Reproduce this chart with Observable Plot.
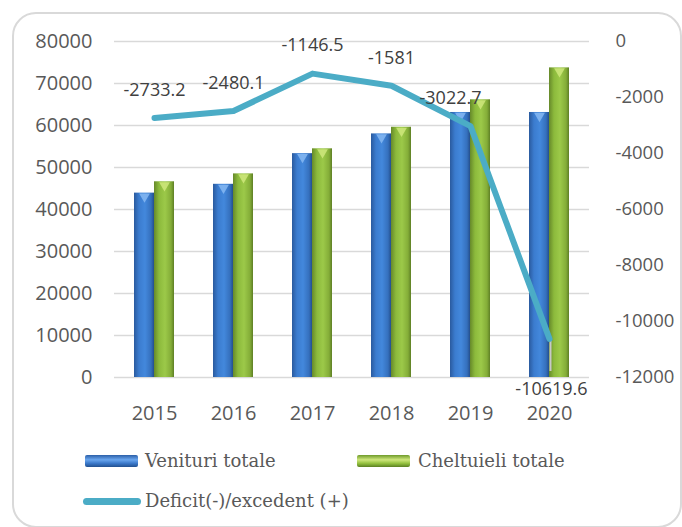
<!DOCTYPE html>
<html><head><meta charset="utf-8">
<script src="https://cdn.jsdelivr.net/npm/d3@7"></script>
<script src="https://cdn.jsdelivr.net/npm/@observablehq/plot@0.6"></script>
<style>
body{margin:0;background:#fff;}
#wrap{position:relative;width:682px;height:527px;overflow:hidden;font-family:"Open Sans",sans-serif;}
#frame{position:absolute;left:12px;top:12px;width:670px;height:516px;border:2px solid #d9d9d9;border-radius:24px;box-sizing:border-box;}
#chart{position:absolute;left:0;top:0;}
.leg{position:absolute;font-family:"DejaVu Serif",serif;font-size:18px;color:#595959;white-space:nowrap;line-height:20px;}
.sw{position:absolute;}
</style></head>
<body><div id="wrap"><div id="frame"></div><div id="chart"></div><div id="legend"></div></div>
<script>
// ---- data ----
const years = ["2015", "2016", "2017", "2018", "2019", "2020"];
const venituri = [43900, 46000, 53300, 58000, 63100, 63100];
const cheltuieli = [46600, 48480, 54450, 59580, 66120, 73720];
const deficit = [-2733.2, -2480.1, -1146.5, -1581, -3022.7, -10619.6];
const leftTicks = [0, 10000, 20000, 30000, 40000, 50000, 60000, 70000, 80000];
const rightTicks = [0, -2000, -4000, -6000, -8000, -10000, -12000];
const seriesNames = ["Venituri totale", "Cheltuieli totale", "Deficit(-)/excedent (+)"];

// dual-axis mapping: right axis [-12000, 0] onto left axis [0, 80000]
const LEFT_MAX = 80000, RIGHT_MIN = -12000, RIGHT_MAX = 0;
const toLeft = v => (v - RIGHT_MIN) / (RIGHT_MAX - RIGHT_MIN) * LEFT_MAX;
const fromLeft = y => y / LEFT_MAX * (RIGHT_MAX - RIGHT_MIN) + RIGHT_MIN;

const rows = years.map((year, i) => ({
  year, ven: venituri[i], chel: cheltuieli[i], def: deficit[i], defY: toLeft(deficit[i])
}));
const last = rows.slice(-1);
const plain = rows.filter(d => d.year !== "2019" && d.year !== "2020");
const y2019 = rows.filter(d => d.year === "2019");

const chart = Plot.plot({
  width: 682, height: 430,
  marginTop: 41, marginBottom: 53, marginLeft: 114, marginRight: 93,
  style: {fontFamily: "'Open Sans', sans-serif", color: "#595959", background: "transparent", overflow: "visible"},
  x: {domain: years, paddingInner: 0.495, paddingOuter: 0.2475, label: null},
  y: {domain: [0, 80000], label: null},
  marks: [
    Plot.gridY(leftTicks, {stroke: "#d9d9d9", strokeOpacity: 1, strokeWidth: 1.5}),
    Plot.axisY(leftTicks, {tickSize: 0, tickPadding: 22, fontSize: 20, label: null, tickFormat: d => String(d)}),
    Plot.axisY(rightTicks.map(toLeft), {anchor: "right", tickSize: 0, tickPadding: 26, fontSize: 18.5, label: null,
      tickFormat: d => String(Math.round(fromLeft(d)))}),
    Plot.axisX({tickSize: 0, tickPadding: 28, fontSize: 20, label: null}),
    Plot.barY(rows, {x: "year", y: "ven", fill: "url(#gBlue)", insetRight: 20}),
    Plot.barY(rows, {x: "year", y: "chel", fill: "url(#gGreen)", insetLeft: 20}),
    Plot.dot(rows, {x: "year", y: "ven", symbol: "triangle", rotate: 180, r: 4, dx: -10, dy: 3.5, fill: "#86b9f2", fillOpacity: 0.85}),
    Plot.dot(rows, {x: "year", y: "chel", symbol: "triangle", rotate: 180, r: 4, dx: 10, dy: 3.5, fill: "#cfe77c", fillOpacity: 0.85}),
    Plot.ruleX(last, {x: "year", y1: "defY", y2: 0, dx: 1, stroke: "#c8c8c8", strokeWidth: 2, insetTop: 2, insetBottom: 6}),
    Plot.line(rows, {x: "year", y: "defY", stroke: "#4bacc6", strokeWidth: 6, strokeLinejoin: "round", strokeLinecap: "round"}),
    Plot.text(plain, {x: "year", y: "defY", text: d => String(d.def), dy: -28, fontSize: 18, fill: "#404040"}),
    Plot.text(y2019, {x: "year", y: "defY", text: d => String(d.def), dy: -28, dx: -20, fontSize: 18, fill: "#404040"}),
    Plot.text(last, {x: "year", y: "defY", text: d => String(d.def), dy: 50, dx: 2, fontSize: 18, fill: "#404040"})
  ]
});

// gradients for the bevelled bars
const defs = d3.select(chart).insert("defs", ":first-child");
function grad(id, stops) {
  const g = defs.append("linearGradient").attr("id", id).attr("x1", "0").attr("x2", "1").attr("y1", "0").attr("y2", "0");
  stops.forEach(([o, c]) => g.append("stop").attr("offset", o).attr("stop-color", c));
}
grad("gBlue", [["0", "#2a5a9e"], ["0.25", "#3b7ccf"], ["0.55", "#4388dc"], ["0.85", "#3570bd"], ["1", "#244f8c"]]);
grad("gGreen", [["0", "#66892a"], ["0.25", "#8cba3c"], ["0.55", "#9cc949"], ["0.85", "#84ad38"], ["1", "#5e7f25"]]);
document.getElementById("chart").append(chart);

// legend
const legend = document.getElementById("legend");
const items = [
  {name: seriesNames[0], sw: {left: 85, top: 455, w: 53, h: 12, bg: "linear-gradient(to bottom,#2b5fa8 0%,#6aa6ee 40%,#3a78c9 70%,#22508f 100%)", r: 2}, tx: 145, ty: 451},
  {name: seriesNames[1], sw: {left: 357, top: 455, w: 53, h: 12, bg: "linear-gradient(to bottom,#6e9a2a 0%,#cfe77c 40%,#94c13f 70%,#5b8022 100%)", r: 2}, tx: 418, ty: 451},
  {name: seriesNames[2], sw: {left: 83, top: 498, w: 58, h: 7, bg: "#4bacc6", r: 4}, tx: 145, ty: 491}
];
items.forEach(it => {
  const s = document.createElement("div");
  s.className = "sw";
  Object.assign(s.style, {left: it.sw.left + "px", top: it.sw.top + "px", width: it.sw.w + "px", height: it.sw.h + "px", background: it.sw.bg, borderRadius: it.sw.r + "px"});
  legend.append(s);
  const t = document.createElement("div");
  t.className = "leg";
  t.textContent = it.name;
  Object.assign(t.style, {left: it.tx + "px", top: it.ty + "px"});
  legend.append(t);
});
</script>
</body></html>
